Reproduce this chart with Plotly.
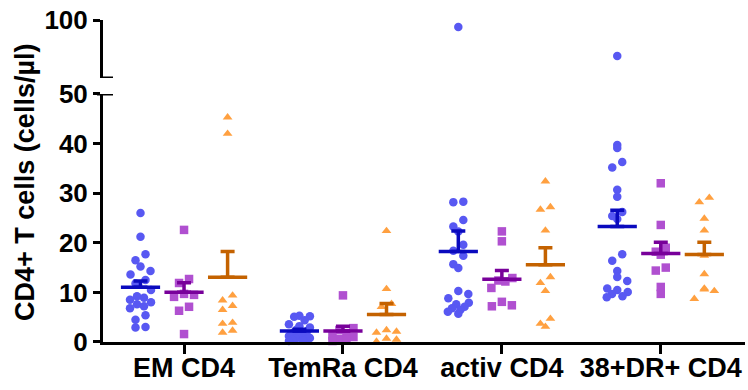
import numpy as np
import plotly.graph_objects as go

# Categories along the x axis
categories = ["EM CD4", "TemRa CD4", "activ CD4", "38+DR+ CD4"]

# CD4+ T cell counts (cells/µl), one list per category
blue_values = [
    [26.0, 21.2, 17.7, 16.5, 15.2, 14.3, 13.6, 12.5, 11.8, 10.5, 9.2, 8.9, 8.5, 8.0, 7.6, 7.2, 6.8, 5.4, 4.5, 3.0, 2.9],
    [5.3, 5.1, 5.2, 4.4, 3.6, 3.2, 2.9, 2.5, 2.2, 2.0, 1.8, 1.6, 1.4, 1.2, 1.0, 0.8, 0.7, 0.5, 0.4, 0.3, 0.2],
    [94.0, 28.3, 28.2, 24.6, 23.3, 22.3, 19.6, 18.4, 17.4, 15.7, 14.9, 10.3, 9.7, 8.8, 7.9, 7.6, 7.1, 6.8, 6.5, 6.1, 5.7],
    [69.0, 39.7, 39.1, 36.3, 35.2, 30.7, 29.3, 26.2, 25.4, 24.8, 17.7, 16.4, 14.3, 13.1, 12.3, 10.8, 10.5, 10.1, 9.7, 9.2, 9.0],
]
purple_values = [
    [22.6, 12.7, 11.9, 9.7, 9.5, 9.1, 7.1, 6.3, 1.6],
    [9.4, 2.8, 2.4, 1.8, 1.3, 1.0, 0.6, 0.4, 0.2],
    [22.3, 20.3, 12.9, 12.4, 12.2, 10.9, 8.1, 7.4, 7.2],
    [32.0, 23.6, 19.0, 18.2, 17.6, 15.0, 14.4, 11.1, 9.7],
]
orange_values = [
    [45.3, 42.0, 9.4, 8.4, 7.3, 6.5, 3.9, 3.7, 2.3, 1.9],
    [22.4, 10.7, 7.7, 7.1, 2.4, 2.1, 1.9, 0.7, 0.5, 0.1],
    [32.4, 27.2, 26.7, 22.5, 13.1, 11.9, 10.3, 4.7, 3.7, 3.1],
    [29.1, 28.2, 24.9, 22.5, 17.4, 13.7, 10.8, 10.6, 10.3, 8.7],
]

# Broken y axis: lower segment 0-50, upper segment 50-100
BREAK = 50
PX_PER_X = 159.0   # pixels per category step
FONT = "Liberation Sans, Arial, sans-serif"

series = [
    dict(values=blue_values, offset=-0.274, symbol="circle", color="#5858F2", dark="#0A0ABE"),
    dict(values=purple_values, offset=0.0, symbol="square", color="#B050D0", dark="#78009A"),
    dict(values=orange_values, offset=0.274, symbol="triangle-up", color="#FFA040", dark="#C46200"),
]


def swarm_offsets(vals, bin_h=2.4, bin_start=1.2, step_px=10.0, max_half_px=10.5):
    """Spread points that share a value bin symmetrically around the column centre."""
    vals = np.asarray(vals, dtype=float)
    offs = np.zeros(len(vals))
    low = vals <= BREAK
    bins = np.floor((vals - bin_start) / bin_h)
    for b in np.unique(bins[low]):
        idx = np.where((bins == b) & low)[0]
        idx = idx[np.argsort(vals[idx])]
        n = len(idx)
        if n == 1:
            continue
        step = min(step_px, 2 * max_half_px / (n - 1))
        # alternate left/right so neighbours in value sit on opposite sides
        order = sorted(range(n), key=lambda k: (k % 2, k))
        for slot, k in enumerate(order):
            offs[idx[k]] = (slot - (n - 1) / 2) * step
    return offs / PX_PER_X


fig = go.Figure()

for s in series:
    xs_lo, ys_lo, xs_hi, ys_hi = [], [], [], []
    for ci, vals in enumerate(s["values"]):
        vals = np.asarray(vals, dtype=float)
        offs = swarm_offsets(vals)
        for v, o in zip(vals, offs):
            x = ci + s["offset"] + o
            if v > BREAK:
                xs_hi.append(x); ys_hi.append(v)
            else:
                xs_lo.append(x); ys_lo.append(v)
    marker = dict(symbol=s["symbol"], size=8.5, color=s["color"], line=dict(width=0))
    fig.add_trace(go.Scatter(x=xs_lo, y=ys_lo, mode="markers", marker=marker,
                             cliponaxis=False, showlegend=False, hoverinfo="y"))
    if xs_hi:
        fig.add_trace(go.Scatter(x=xs_hi, y=ys_hi, mode="markers", marker=marker,
                                 yaxis="y2", cliponaxis=False, showlegend=False, hoverinfo="y"))

# Mean with SEM (upper bar only) drawn on top of the points
for s in series:
    means = [float(np.mean(v)) for v in s["values"]]
    sems = [float(np.std(v, ddof=1) / np.sqrt(len(v))) for v in s["values"]]
    fig.add_trace(go.Scatter(
        x=[ci + s["offset"] for ci in range(len(categories))],
        y=means,
        mode="markers",
        marker=dict(symbol="line-ew", size=28, line=dict(width=3.5, color=s["dark"])),
        error_y=dict(type="data", symmetric=False, array=sems, arrayminus=[0] * len(sems),
                     thickness=3.5, width=7, color=s["dark"]),
        cliponaxis=False, showlegend=False, hoverinfo="y",
    ))

axis_common = dict(showline=True, linewidth=3, linecolor="black", ticks="outside",
                   tickwidth=3, tickcolor="black", showgrid=False, zeroline=False,
                   automargin=False)

fig.update_layout(
    width=748, height=390,
    margin=dict(l=103, r=3, t=20, b=48),
    paper_bgcolor="white", plot_bgcolor="white",
    font=dict(family=FONT, color="black"),
    xaxis=dict(range=[-0.51, 3.53], tickvals=list(range(len(categories))), ticktext=categories,
               ticklen=9, ticklabelstandoff=-9,
               tickfont=dict(size=27, weight="bold", family=FONT), anchor="y",
               **axis_common),
    yaxis=dict(domain=[0, 0.7702], range=[0, BREAK], tickvals=[0, 10, 20, 30, 40, 50],
               ticklen=7, tickfont=dict(size=26, weight="bold", family=FONT), **axis_common),
    yaxis2=dict(domain=[0.8199, 1], range=[BREAK, 100], tickvals=[100], anchor="x",
                ticklen=7, tickfont=dict(size=26, weight="bold", family=FONT), **axis_common),
    annotations=[dict(text="CD4+ T cells (cells/µl)", xref="paper", yref="paper",
                      x=-0.1215, y=0.497, xanchor="center", yanchor="middle", textangle=-90,
                      showarrow=False, font=dict(size=27, weight="bold", family=FONT))],
    shapes=[
        # axis-break marks at the end of each segment
        dict(type="line", xref="paper", xsizemode="pixel", xanchor=0, x0=-6, x1=10,
             yref="y", y0=BREAK, y1=BREAK, line=dict(color="black", width=3)),
        dict(type="line", xref="paper", xsizemode="pixel", xanchor=0, x0=-3, x1=10,
             yref="y2", y0=BREAK, y1=BREAK, line=dict(color="black", width=3)),
    ],
)

fig.write_html("out.html")
